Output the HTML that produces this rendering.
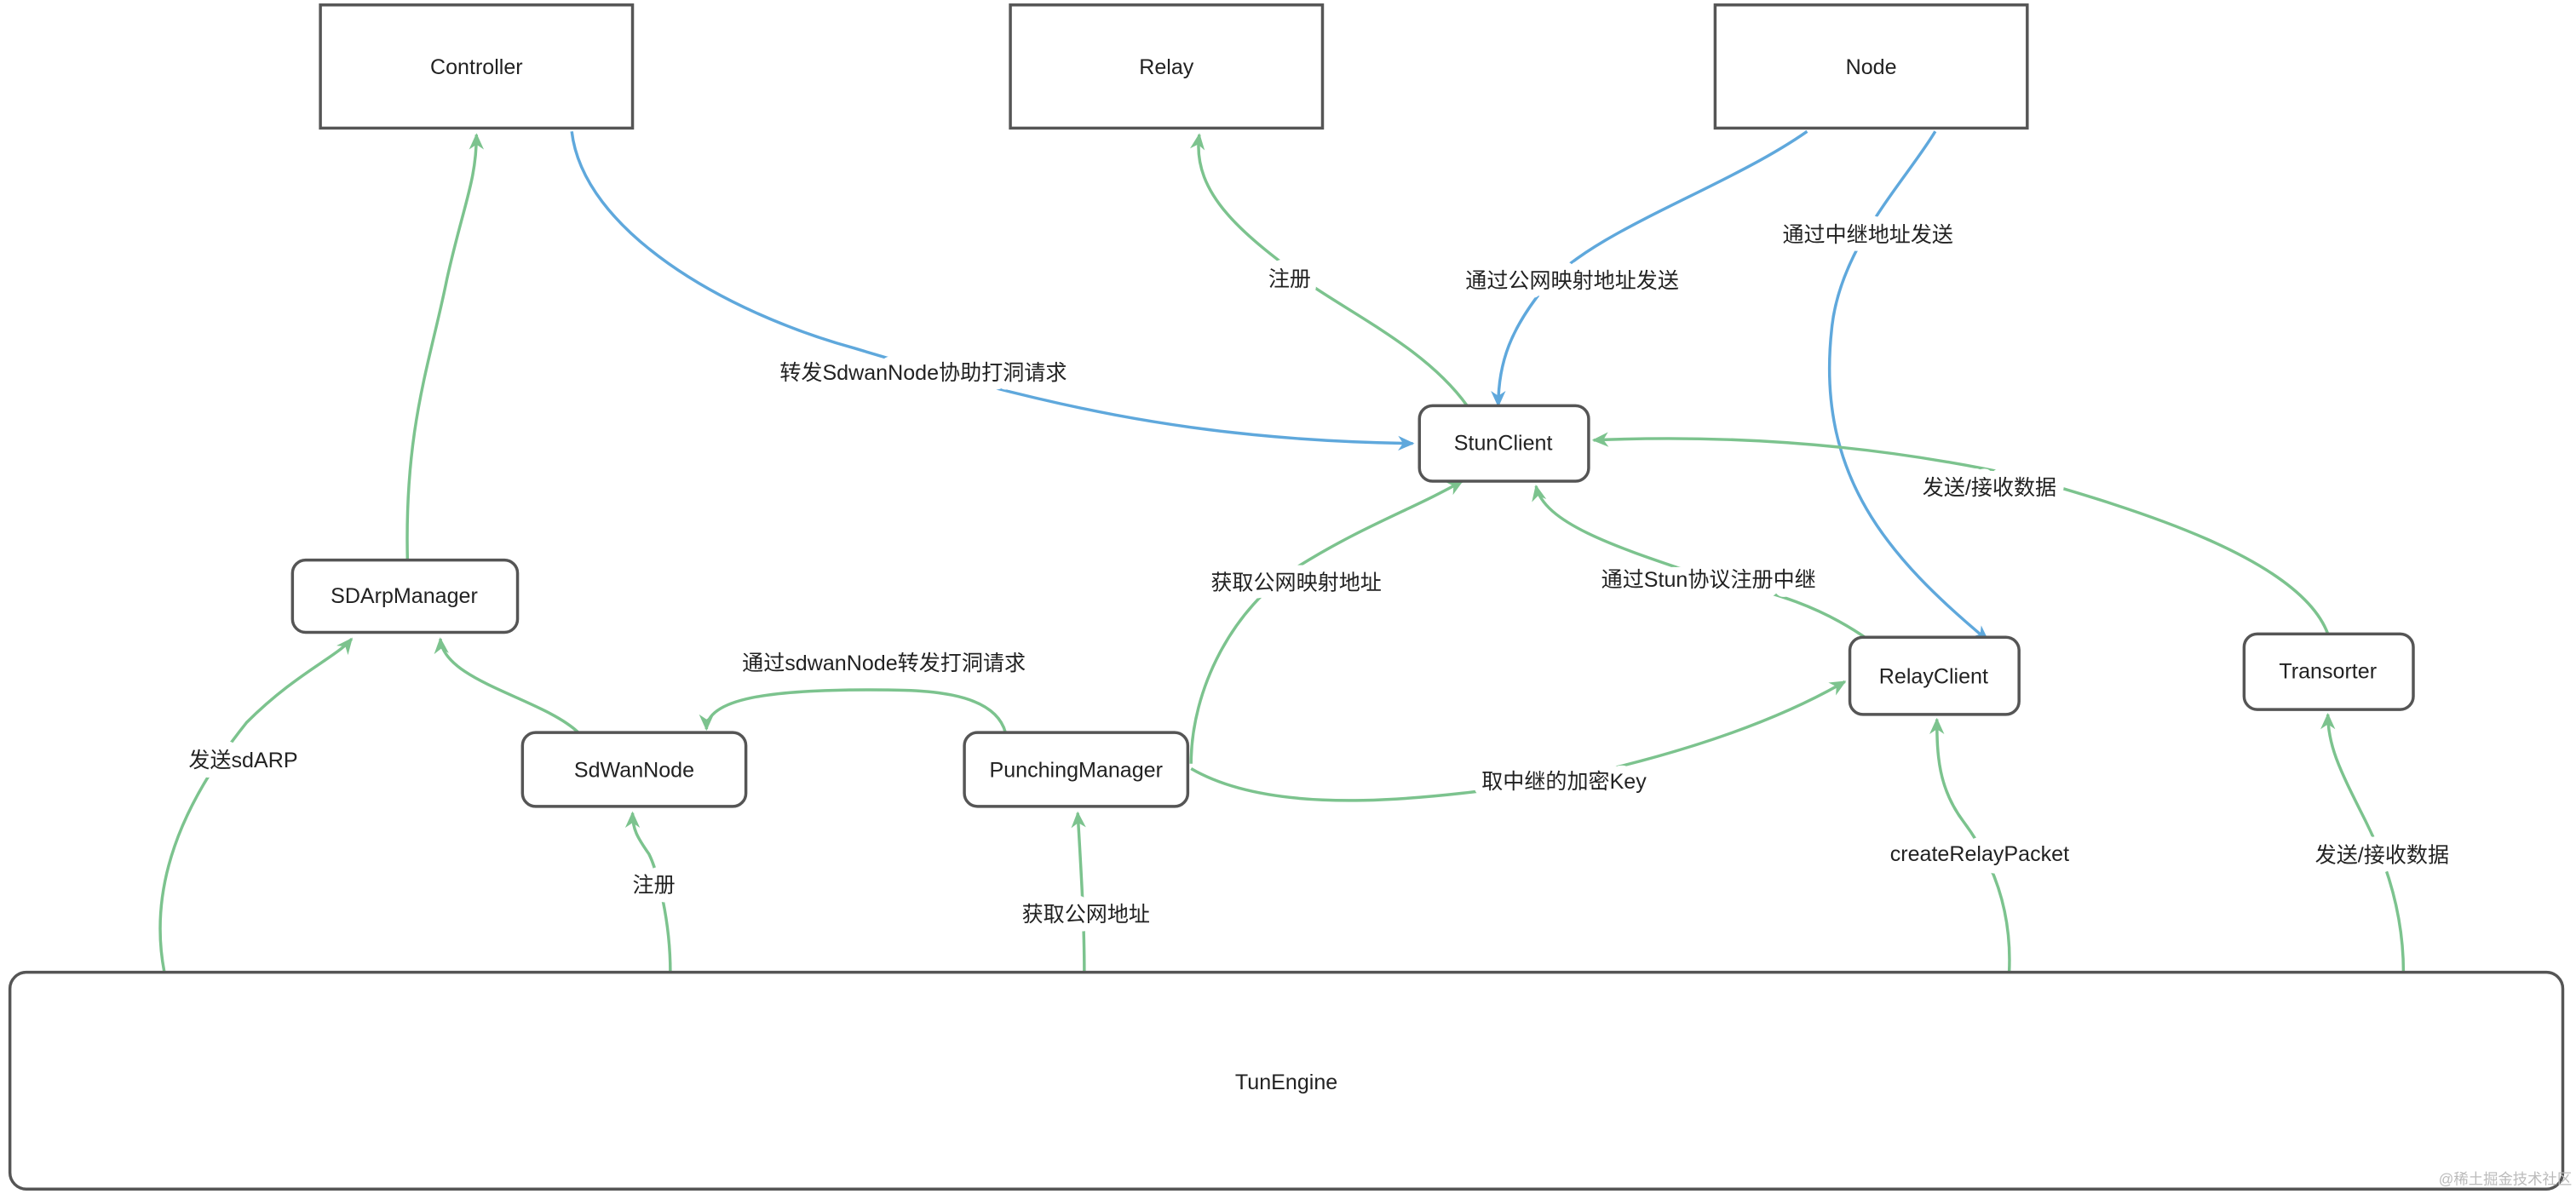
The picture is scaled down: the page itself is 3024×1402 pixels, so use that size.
<!DOCTYPE html>
<html><head><meta charset="utf-8"><style>
html,body{margin:0;padding:0;background:#fff;}
svg{display:block;}
text{font-family:"Liberation Sans","Noto Sans CJK SC",sans-serif;font-size:13px;fill:#222;text-anchor:middle;dominant-baseline:central;}
.lbl{paint-order:stroke;stroke:#fff;stroke-width:10px;stroke-linejoin:round;}
.g{fill:none;stroke:#7cc38e;stroke-width:1.8;}
.b{fill:none;stroke:#5fa8dc;stroke-width:1.8;}
.box{fill:#fff;stroke:#555;stroke-width:1.8;}
</style></head><body>
<svg width="3024" height="1402" viewBox="0 0 1568 727" xmlns="http://www.w3.org/2000/svg">
<defs>
<marker id="ag" viewBox="0 0 10 10" refX="9" refY="5" markerWidth="15" markerHeight="10" orient="auto" markerUnits="userSpaceOnUse"><path d="M0,0.5 L10,5 L0,9.5 L3,5 z" fill="#7cc38e"/></marker>
<marker id="ab" viewBox="0 0 10 10" refX="9" refY="5" markerWidth="15" markerHeight="10" orient="auto" markerUnits="userSpaceOnUse"><path d="M0,0.5 L10,5 L0,9.5 L3,5 z" fill="#5fa8dc"/></marker>
</defs>

<path class="g" marker-end="url(#ag)" d="M248,341 C246,260 262,220 272,170 C282,125 290,110 290,82"/>
<path class="b" marker-end="url(#ab)" d="M348,80 C355,140 440,190 520,212 C630,245 720,268 860,270"/>
<path class="g" marker-end="url(#ag)" d="M893,247 C870,215 830,195 800,175 C760,145 725,120 730,82"/>
<path class="b" marker-end="url(#ab)" d="M1100,80 C1050,115 970,140 940,175 C920,200 912,220 912,247"/>
<path class="b" marker-end="url(#ab)" d="M1178,80 C1160,110 1120,150 1115,200 C1105,290 1150,340 1210,390"/>
<path class="g" marker-end="url(#ag)" d="M1417,386 C1400,340 1300,310 1230,290 C1130,268 1040,265 970,268"/>
<path class="g" marker-end="url(#ag)" d="M725,465 C725,420 750,370 790,345 C830,320 860,310 890,293"/>
<path class="g" marker-end="url(#ag)" d="M1138,390 C1110,370 1080,360 1040,352 C990,335 940,320 935,296"/>
<path class="g" marker-end="url(#ag)" d="M725,468 C780,500 880,485 950,475 C1020,460 1080,440 1123,415"/>
<path class="g" marker-end="url(#ag)" d="M612,446 C605,420 560,420 530,420 C470,420 430,425 430,444"/>
<path class="g" marker-end="url(#ag)" d="M352,446 C330,425 270,415 268,389"/>
<path class="g" marker-end="url(#ag)" d="M100,592 C90,540 110,490 150,440 C180,410 205,400 214,389"/>
<path class="g" marker-end="url(#ag)" d="M408,592 C408,560 400,530 395,520 C388,510 385,505 385,495"/>
<path class="g" marker-end="url(#ag)" d="M660,592 C660,560 658,530 656,495"/>
<path class="g" marker-end="url(#ag)" d="M1223,592 C1225,550 1210,520 1195,500 C1180,480 1179,460 1179,438"/>
<path class="g" marker-end="url(#ag)" d="M1463,592 C1463,560 1455,530 1440,500 C1425,470 1417,455 1417,435"/>

<text class="lbl" x="562" y="227">转发SdwanNode协助打洞请求</text>
<text class="lbl" x="785" y="170">注册</text>
<text class="lbl" x="957" y="171">通过公网映射地址发送</text>
<text class="lbl" x="1137" y="143">通过中继地址发送</text>
<text class="lbl" x="1211" y="297">发送/接收数据</text>
<text class="lbl" x="789" y="355">获取公网映射地址</text>
<text class="lbl" x="1040" y="353">通过Stun协议注册中继</text>
<text class="lbl" x="952" y="476">取中继的加密Key</text>
<text class="lbl" x="538" y="404">通过sdwanNode转发打洞请求</text>
<text class="lbl" x="148" y="463">发送sdARP</text>
<text class="lbl" x="398" y="539">注册</text>
<text class="lbl" x="661" y="557">获取公网地址</text>
<text class="lbl" x="1205" y="520">createRelayPacket</text>
<text class="lbl" x="1450" y="521">发送/接收数据</text>

<rect class="box" x="195" y="3" width="190" height="75"/><text x="290" y="41">Controller</text>
<rect class="box" x="615" y="3" width="190" height="75"/><text x="710" y="41">Relay</text>
<rect class="box" x="1044" y="3" width="190" height="75"/><text x="1139" y="41">Node</text>
<rect class="box" x="864" y="247" width="103" height="46" rx="8"/><text x="915" y="270">StunClient</text>
<rect class="box" x="178" y="341" width="137" height="44" rx="8"/><text x="246" y="363">SDArpManager</text>
<rect class="box" x="318" y="446" width="136" height="45" rx="8"/><text x="386" y="469">SdWanNode</text>
<rect class="box" x="587" y="446" width="136" height="45" rx="8"/><text x="655" y="469">PunchingManager</text>
<rect class="box" x="1126" y="388" width="103" height="47" rx="8"/><text x="1177" y="412">RelayClient</text>
<rect class="box" x="1366" y="386" width="103" height="46" rx="8"/><text x="1417" y="409">Transorter</text>
<rect class="box" x="6" y="592" width="1554" height="132" rx="10"/><text x="783" y="659">TunEngine</text>

<text x="1525" y="718" style="font-size:9px;fill:#bbb">@稀土掘金技术社区</text>
</svg>
</body></html>
